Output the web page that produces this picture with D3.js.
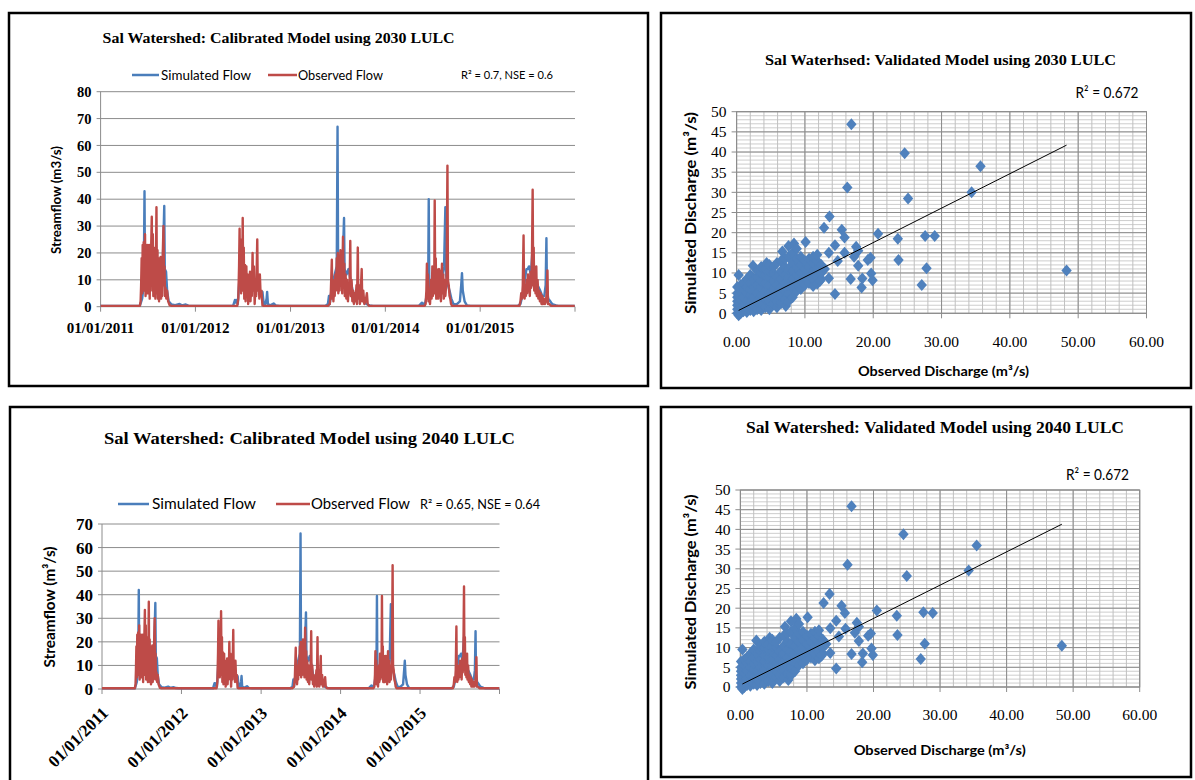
<!DOCTYPE html>
<html>
<head>
<meta charset="utf-8">
<script src="https://cdn.jsdelivr.net/npm/d3@7"></script>
<style>
  body { margin: 0; background: #fff; }
  svg { display: block; }
</style>
</head>
<body>
<svg id="chart" width="1195" height="780"></svg>
<script>
// ---- data ----
var yearLabels = ["01/01/2011", "01/01/2012", "01/01/2013", "01/01/2014", "01/01/2015"];
var flowTicks2030 = [0, 10, 20, 30, 40, 50, 60, 70, 80];
var flowTicks2040 = [0, 10, 20, 30, 40, 50, 60, 70];
var simTicks = [0, 5, 10, 15, 20, 25, 30, 35, 40, 45, 50];
var obsTicks = [0, 10, 20, 30, 40, 50, 60];

// observed flow (m3/s), same gauge record in both calibration panels
var observedFlow = [
  ["2011-01-01",0.3],
  ["2011-06-01",0.3],["2011-06-04",2],["2011-06-06",8],["2011-06-08",18],["2011-06-10",5],["2011-06-12",23],["2011-06-14",10],["2011-06-16",24],["2011-06-18",6],["2011-06-21",27],["2011-06-23",4],["2011-06-25",22],["2011-06-27",8],["2011-06-29",23],["2011-07-01",5],["2011-07-03",20],["2011-07-05",10],["2011-07-07",23],["2011-07-09",3],["2011-07-11",18],["2011-07-13",8],["2011-07-15",24],["2011-07-17",33.5],["2011-07-19",6],["2011-07-21",27],["2011-07-23",4],["2011-07-25",22],["2011-07-27",9],["2011-07-29",20],["2011-07-31",3],["2011-08-02",15],["2011-08-04",37],["2011-08-06",5],["2011-08-08",21],["2011-08-10",3],["2011-08-12",12],["2011-08-14",2],["2011-08-16",18],["2011-08-18",6],["2011-08-20",18.5],["2011-08-22",3],["2011-08-24",10],["2011-08-26",4],["2011-08-28",18],["2011-08-31",30],["2011-09-02",8],["2011-09-04",15],["2011-09-06",4],["2011-09-08",7],["2011-09-11",3],["2011-09-14",6],["2011-09-18",2],["2011-09-24",0.5],["2011-10-01",0.3],
  ["2012-06-10",0.3],["2012-06-14",3],["2012-06-17",15],["2012-06-19",29],["2012-06-21",8],["2012-06-23",25],["2012-06-25",5],["2012-06-27",18],["2012-06-29",10],["2012-07-01",33],["2012-07-03",6],["2012-07-05",22],["2012-07-07",3],["2012-07-10",15.5],["2012-07-12",2],["2012-07-15",15],["2012-07-17",5],["2012-07-20",12],["2012-07-22",1],["2012-07-25",8],["2012-07-27",3],["2012-07-29",13],["2012-07-31",2],["2012-08-03",10],["2012-08-05",4],["2012-08-08",20],["2012-08-10",6],["2012-08-13",15],["2012-08-16",1],["2012-08-19",8],["2012-08-22",4],["2012-08-26",25],["2012-08-28",6],["2012-08-31",12],["2012-09-03",3],["2012-09-05",12],["2012-09-08",4],["2012-09-11",6],["2012-09-15",0.5],["2012-09-20",0.3],
  ["2013-05-25",0.3],["2013-06-01",1],["2013-06-05",5],["2013-06-09",17.5],["2013-06-11",3],["2013-06-13",10],["2013-06-15",2],["2013-06-18",8],["2013-06-20",4],["2013-06-23",12],["2013-06-25",6],["2013-06-28",18],["2013-06-30",8],["2013-07-02",20],["2013-07-04",5],["2013-07-07",19],["2013-07-09",6],["2013-07-12",21],["2013-07-14",8],["2013-07-17",18],["2013-07-19",5],["2013-07-22",26],["2013-07-24",10],["2013-07-27",16],["2013-07-29",4],["2013-08-01",12],["2013-08-04",3],["2013-08-07",10],["2013-08-10",2],["2013-08-13",8],["2013-08-16",5],["2013-08-19",24.5],["2013-08-21",4],["2013-08-24",10],["2013-08-27",2],["2013-08-30",6],["2013-09-02",1],["2013-09-05",5],["2013-09-08",2],["2013-09-12",8],["2013-09-14",1],["2013-09-17",22],["2013-09-19",3],["2013-09-22",8],["2013-09-25",1],["2013-09-28",5],["2013-10-02",14],["2013-10-04",2],["2013-10-08",6],["2013-10-12",1],["2013-10-17",2],["2013-10-22",5],["2013-10-25",1],["2013-10-31",0.3],
  ["2014-06-01",0.3],["2014-06-05",1],["2014-06-08",6],["2014-06-10",16],["2014-06-12",3],["2014-06-14",12],["2014-06-16",2],["2014-06-19",4],["2014-06-22",1],["2014-06-26",10],["2014-06-28",3],["2014-07-01",15],["2014-07-03",4],["2014-07-06",12],["2014-07-08",5],["2014-07-10",39.5],["2014-07-12",6],["2014-07-14",18],["2014-07-16",3],["2014-07-18",14],["2014-07-20",5],["2014-07-22",12],["2014-07-24",3],["2014-07-27",14],["2014-07-29",4],["2014-08-01",13],["2014-08-03",2],["2014-08-05",10],["2014-08-07",16],["2014-08-09",5],["2014-08-12",12],["2014-08-14",3],["2014-08-17",10],["2014-08-20",4],["2014-08-23",8],["2014-08-25",12],["2014-08-28",52.5],["2014-08-30",10],["2014-09-02",8],["2014-09-05",4],["2014-09-08",3],["2014-09-11",1],["2014-09-15",0.3],
  ["2015-06-01",0.3],["2015-06-05",2],["2015-06-08",5],["2015-06-11",3],["2015-06-14",8],["2015-06-17",26.5],["2015-06-19",5],["2015-06-21",3],["2015-06-24",8],["2015-06-26",4],["2015-06-29",10],["2015-07-01",5],["2015-07-04",12],["2015-07-06",6],["2015-07-09",10],["2015-07-11",4],["2015-07-14",13],["2015-07-16",7],["2015-07-19",15],["2015-07-22",43.5],["2015-07-24",8],["2015-07-26",22],["2015-07-28",6],["2015-07-31",14],["2015-08-02",5],["2015-08-05",15],["2015-08-07",4],["2015-08-10",10],["2015-08-13",3],["2015-08-16",6],["2015-08-19",2],["2015-08-22",5],["2015-08-25",1],["2015-08-28",4],["2015-08-31",1],["2015-09-03",3],["2015-09-07",1],["2015-09-11",2],["2015-09-14",5],["2015-09-17",13.5],["2015-09-19",1],["2015-09-24",1],["2015-10-01",0.3],
  ["2015-12-31",0.3]
];

// simulated flow with 2030 LULC
var simulated2030 = [
  ["2011-01-01",0.3],
  ["2011-06-01",0.3],["2011-06-10",3],["2011-06-16",8],["2011-06-19",43],["2011-06-21",10],["2011-06-25",18],["2011-07-01",12],["2011-07-10",20],["2011-07-20",15],["2011-08-01",18],["2011-08-10",12],["2011-08-20",10],["2011-08-28",14],["2011-09-03",37.5],["2011-09-05",14],["2011-09-10",13],["2011-09-14",6],["2011-09-20",2],["2011-10-01",0.8],["2011-10-15",0.6],["2011-11-01",1],["2011-11-10",0.5],["2011-11-25",0.8],["2011-12-05",0.4],["2011-12-20",0.3],
  ["2012-05-25",0.3],["2012-06-01",2.5],["2012-06-05",1.5],["2012-06-08",2.5],["2012-06-12",1],["2012-06-18",10],["2012-06-25",12],["2012-07-05",10],["2012-07-15",8],["2012-07-25",6],["2012-08-05",10],["2012-08-15",8],["2012-08-25",10],["2012-09-05",6],["2012-09-15",5.5],["2012-09-20",1],["2012-09-25",0.5],["2012-10-01",3],["2012-10-03",5.5],["2012-10-06",1],["2012-10-15",0.5],["2012-10-28",1.2],["2012-11-05",0.5],["2012-11-20",0.3],
  ["2013-05-15",0.3],["2013-05-25",1],["2013-05-29",4],["2013-06-01",1],["2013-06-10",8],["2013-06-20",12],["2013-06-28",15],["2013-07-01",67],["2013-07-03",20],["2013-07-08",15],["2013-07-15",18],["2013-07-22",20],["2013-07-26",33],["2013-07-28",14],["2013-08-05",12],["2013-08-12",14],["2013-08-20",10],["2013-08-28",6],["2013-09-05",4],["2013-09-12",3],["2013-09-20",5],["2013-10-01",3],["2013-10-10",2],["2013-10-20",1],["2013-11-01",0.5],["2013-11-15",0.3],
  ["2014-05-10",0.3],["2014-05-22",1.5],["2014-05-26",0.5],["2014-06-05",2],["2014-06-12",6],["2014-06-15",10],["2014-06-17",40],["2014-06-19",8],["2014-06-25",6],["2014-07-05",8],["2014-07-15",10],["2014-07-25",8],["2014-08-05",10],["2014-08-15",15],["2014-08-20",37],["2014-08-22",12],["2014-08-30",8],["2014-09-05",6],["2014-09-12",3],["2014-09-20",1],["2014-10-01",0.8],["2014-10-15",2],["2014-10-20",8],["2014-10-23",12.5],["2014-10-26",6],["2014-11-02",2],["2014-11-11",0.5],["2014-11-25",0.3],
  ["2015-05-25",0.3],["2015-06-05",1],["2015-06-15",5],["2015-06-22",10],["2015-06-28",14],["2015-07-03",14],["2015-07-08",15],["2015-07-15",12],["2015-07-22",22],["2015-07-25",12],["2015-08-01",10],["2015-08-10",8],["2015-08-20",6],["2015-08-28",4],["2015-09-05",4],["2015-09-10",8],["2015-09-13",25.5],["2015-09-15",6],["2015-09-20",3],["2015-09-28",2],["2015-10-05",1],["2015-10-20",0.5],["2015-10-28",0.3],
  ["2015-12-31",0.3]
];

// simulated flow with 2040 LULC
var simulated2040 = [
  ["2011-01-01",0.3],
  ["2011-06-01",0.3],["2011-06-10",3],["2011-06-16",8],["2011-06-19",42],["2011-06-21",10],["2011-06-25",18],["2011-07-01",12],["2011-07-10",20],["2011-07-20",15],["2011-08-01",18],["2011-08-10",12],["2011-08-20",10],["2011-08-28",14],["2011-09-03",36.5],["2011-09-05",14],["2011-09-10",13],["2011-09-14",6],["2011-09-20",2],["2011-10-01",0.8],["2011-10-15",0.6],["2011-11-01",1],["2011-11-10",0.5],["2011-11-25",0.8],["2011-12-05",0.4],["2011-12-20",0.3],
  ["2012-05-25",0.3],["2012-06-01",2.5],["2012-06-05",1.5],["2012-06-08",2.5],["2012-06-12",1],["2012-06-18",10],["2012-06-25",12],["2012-07-05",10],["2012-07-15",8],["2012-07-25",6],["2012-08-05",10],["2012-08-15",8],["2012-08-25",10],["2012-09-05",6],["2012-09-15",5.5],["2012-09-20",1],["2012-09-25",0.5],["2012-10-01",3],["2012-10-03",5.5],["2012-10-06",1],["2012-10-15",0.5],["2012-10-28",1.2],["2012-11-05",0.5],["2012-11-20",0.3],
  ["2013-05-15",0.3],["2013-05-25",1],["2013-05-29",4],["2013-06-01",1],["2013-06-10",8],["2013-06-20",12],["2013-06-28",15],["2013-07-01",66],["2013-07-03",20],["2013-07-08",15],["2013-07-15",18],["2013-07-22",20],["2013-07-26",32.5],["2013-07-28",14],["2013-08-05",12],["2013-08-12",14],["2013-08-20",10],["2013-08-28",6],["2013-09-05",4],["2013-09-12",3],["2013-09-20",5],["2013-10-01",3],["2013-10-10",2],["2013-10-20",1],["2013-11-01",0.5],["2013-11-15",0.3],
  ["2014-05-10",0.3],["2014-05-22",1.5],["2014-05-26",0.5],["2014-06-05",2],["2014-06-12",6],["2014-06-15",10],["2014-06-17",39.5],["2014-06-19",8],["2014-06-25",6],["2014-07-05",8],["2014-07-15",10],["2014-07-25",8],["2014-08-05",10],["2014-08-15",15],["2014-08-20",36],["2014-08-22",12],["2014-08-30",8],["2014-09-05",6],["2014-09-12",3],["2014-09-20",1],["2014-10-01",0.8],["2014-10-15",2],["2014-10-20",8],["2014-10-23",12],["2014-10-26",6],["2014-11-02",2],["2014-11-11",0.5],["2014-11-25",0.3],
  ["2015-05-25",0.3],["2015-06-05",1],["2015-06-15",5],["2015-06-22",10],["2015-06-28",14],["2015-07-03",14],["2015-07-08",15],["2015-07-15",12],["2015-07-22",22],["2015-07-25",12],["2015-08-01",10],["2015-08-10",8],["2015-08-20",6],["2015-08-28",4],["2015-09-05",4],["2015-09-10",8],["2015-09-13",24.5],["2015-09-15",6],["2015-09-20",3],["2015-09-28",2],["2015-10-05",1],["2015-10-20",0.5],["2015-10-28",0.3],
  ["2015-12-31",0.3]
];

// [observed, simulated] pairs in the dense low-flow cloud (same in both validation panels)
var scatterCluster = [
  [0.1,0],[0.1,1],[0.1,2],[0.1,3],[0.1,4],[0.1,5],[0.1,6.5],
  [0.3,-0.5],[0.3,2.5],[0.3,4.5],[0.3,9.5],
  [0.6,0],[0.6,1.5],[0.6,3.5],[0.6,5.5],[0.6,7],
  [1.0,0.5],[1.0,2],[1.0,4],[1.0,6],[1.0,7.5],
  [1.5,0.3],[1.5,1.5],[1.5,3],[1.5,5],[1.5,6.5],[1.5,8.5],
  [2.0,0.8],[2.0,2.5],[2.0,4.5],[2.0,6],[2.0,7.5],[2.0,9.5],
  [2.5,0.5],[2.5,2],[2.5,4],[2.5,6.5],[2.5,8.5],[2.4,11.8],
  [3.0,1],[3.0,3],[3.0,5],[3.0,7],[3.0,9],[3.0,10.5],
  [3.6,0.8],[3.6,2.5],[3.6,4.5],[3.6,6.5],[3.6,8],[3.6,10],[3.6,11.5],
  [4.2,1.5],[4.2,3.5],[4.2,5.5],[4.2,7.5],[4.2,9.5],[4.2,11],[4.4,12.5],
  [4.8,1],[4.8,3],[4.8,5],[4.8,7],[4.8,9],[4.8,10.5],[4.8,12],
  [5.4,2.5],[5.4,4],[5.4,6],[5.4,8],[5.4,10],[5.4,11.5],
  [5.9,1.5],[5.9,3],[5.9,5],[5.9,7],[5.9,9],[5.9,12.5],
  [6.5,2.5],[6.5,4.5],[6.5,6.5],[6.5,8.5],[6.5,10.5],[6.5,13],[6.7,15.3],
  [7.2,1.8],[7.1,3.5],[7.1,5.5],[7.1,7.5],[7.1,9.5],[7.1,11.5],[7.1,13.5],
  [7.6,3],[7.6,5],[7.6,7],[7.6,9],[7.6,11],[7.6,14],[7.6,16.7],
  [8.2,4],[8.2,6.5],[8.2,8.5],[8.2,10.5],[8.2,12.5],[8.2,15],[8.4,17.3],
  [8.8,5.5],[8.8,7.5],[8.8,9.5],[8.8,11.5],[8.8,13.5],[8.8,16],
  [9.4,6],[9.4,8],[9.4,10],[9.4,12],[9.4,14],
  [10,7],[10,9],[10,11],[10,13],[10.1,17.7],
  [10.6,7.5],[10.6,9.5],[10.6,11.5],[10.6,13.5],
  [11.2,6.8],[11.2,8.5],[11.2,10.5],[11.2,12.5],[11.2,14],
  [11.8,7.3],[11.8,9],[11.8,11],[11.8,13],
  [12.4,8.5],[12.4,10],[12.4,12]
];

var scatterOutliers2030 = [
  [16.8,46.9],[24.6,39.7],[35.7,36.5],[16.2,31.2],[34.4,30],[25.1,28.5],[13.6,24],[12.8,21.2],
  [15.4,20.7],[15.8,18.8],[20.7,19.7],[23.6,18.5],[27.6,19.2],[29,19.2],[17.5,16.5],[17.8,15.5],
  [14.4,16.9],[13.5,15],[15.8,15],[17.2,14],[23.7,13.2],[19.2,13.2],[19.6,13.8],[14.8,13],
  [17.8,11.8],[27.8,11.2],[48.3,10.6],[19.7,9.9],[13.5,8.7],[16.7,8.5],[18.4,8.6],[19.9,8.2],
  [27.1,7],[18.3,6.4],[14.4,4.8],[12.9,11],[11.8,14.5],[12.2,8]
];

var scatterOutliers2040 = [
  [16.7,45.9],[24.5,38.8],[35.5,35.9],[16.1,31],[34.3,29.6],[25,28.2],[13.4,23.6],[12.5,21.3],
  [15.2,20.6],[15.7,18.8],[20.5,19.4],[23.5,18.1],[27.5,19],[28.9,18.8],[17.5,16.3],[17.8,15.3],
  [14.4,16.8],[13.5,14.9],[15.8,14.8],[17.2,13.8],[23.6,13.2],[19.2,13],[19.6,13.6],[14.8,12.8],
  [17.8,11.7],[27.7,11],[48.3,10.5],[19.7,9.8],[13.5,8.6],[16.7,8.4],[18.4,8.5],[19.9,8.1],
  [27.1,7.1],[18.3,6.3],[14.4,4.7],[12.9,10.9],[11.8,14.4],[12.2,7.9]
];

// linear trend lines [slope, intercept]
var trend2030 = [0.854, 0.46];
var trend2040 = [0.845, 0.5];

// ---- drawing ----
var svg = d3.select("#chart");
var SANS = "Lato, 'Open Sans', sans-serif";
var SERIF = "'Liberation Serif', 'Times New Roman', serif";
var BLUE = "#4a7ebb", RED = "#be4b48", DOT = "#4f81bd";
var GRID = "#8c8c8c", MINOR = "#c0c0c0";
var parseIso = d3.timeParse("%Y-%m-%d");
var parseLabel = d3.timeParse("%d/%m/%Y");

function txt(g, s, x, y, o) {
    var t = g.append("text")
        .attr("x", x).attr("y", y).attr("dy", "0.35em")
        .attr("font-family", o.family || SANS)
        .attr("font-size", o.size)
        .attr("font-weight", o.weight || "normal")
        .attr("text-anchor", o.anchor || "start")
        .attr("fill", "#000")
        .text(s);
    if (o.fit) t.attr("textLength", o.fit).attr("lengthAdjust", "spacingAndGlyphs");
    if (o.rotate) t.attr("transform", "rotate(" + o.rotate + "," + x + "," + y + ")");
    return t;
}

function box(b) {
    svg.append("rect")
        .attr("x", b[0]).attr("y", b[1])
        .attr("width", b[2] - b[0]).attr("height", b[3] - b[1])
        .attr("fill", "none").attr("stroke", "#000").attr("stroke-width", 2.5);
}

function drawFlow(c, sim, obs, yTicks, stats) {
    box(c.box);
    var g = svg.append("g");

    var x = d3.scaleTime()
        .domain([parseIso("2011-01-01"), parseIso("2016-01-01")])
        .range([c.left, c.right]);
    var y = d3.scaleLinear()
        .domain([0, d3.max(yTicks)])
        .range([c.bottom, c.top]);

    // horizontal gridlines + y ticks
    g.selectAll(".grid").data(yTicks).enter().append("line")
        .attr("x1", c.left - 4).attr("x2", c.right)
        .attr("y1", function(d) { return y(d); }).attr("y2", function(d) { return y(d); })
        .attr("stroke", GRID).attr("stroke-width", 1);
    yTicks.forEach(function(d) {
        txt(g, d, c.left - 9, y(d), {family: SERIF, weight: "bold", size: c.tickSize, anchor: "end"});
    });
    g.append("line")
        .attr("x1", c.left).attr("x2", c.left).attr("y1", c.top).attr("y2", c.bottom)
        .attr("stroke", GRID).attr("stroke-width", 1);

    // x ticks at each year boundary
    var tickDates = yearLabels.map(parseLabel).concat([parseIso("2016-01-01")]);
    g.selectAll(".xt").data(tickDates).enter().append("line")
        .attr("x1", function(d) { return x(d); }).attr("x2", function(d) { return x(d); })
        .attr("y1", c.bottom).attr("y2", c.bottom + 5)
        .attr("stroke", GRID).attr("stroke-width", 1);
    yearLabels.forEach(function(s) {
        var px = x(parseLabel(s));
        if (c.rotate) {
            txt(g, s, px + 3, c.bottom + 21, {family: SERIF, weight: "bold", size: c.xSize, anchor: "end", rotate: -45});
        } else {
            txt(g, s, px, c.labelY, {family: SERIF, weight: "bold", size: c.xSize, anchor: "middle"});
        }
    });

    var line = d3.line()
        .x(function(d) { return x(parseIso(d[0])); })
        .y(function(d) { return y(d[1]); });

    g.append("path").attr("d", line(sim))
        .attr("fill", "none").attr("stroke", BLUE).attr("stroke-width", 2.4)
        .attr("stroke-linejoin", "round");
    g.append("path").attr("d", line(obs))
        .attr("fill", "none").attr("stroke", RED).attr("stroke-width", 2.4)
        .attr("stroke-linejoin", "round");

    // title, legend, stats, axis title
    txt(g, c.title, c.titleX, c.titleY, {family: SERIF, weight: "bold", size: c.titleSize, fit: c.titleW});
    var L = c.legend;
    g.append("line").attr("x1", L.sim[0]).attr("x2", L.sim[1]).attr("y1", L.y).attr("y2", L.y)
        .attr("stroke", BLUE).attr("stroke-width", 2.5);
    txt(g, "Simulated Flow", L.sim[2], L.y, {size: L.size, fit: L.sim[3]});
    g.append("line").attr("x1", L.obs[0]).attr("x2", L.obs[1]).attr("y1", L.y).attr("y2", L.y)
        .attr("stroke", RED).attr("stroke-width", 2.5);
    txt(g, "Observed Flow", L.obs[2], L.y, {size: L.size, fit: L.obs[3]});
    txt(g, stats, L.stats[0], L.y, {size: L.statSize, fit: L.stats[1]});

    txt(g, c.yTitle, c.yTitleX, c.yTitleY, {weight: "bold", size: c.yTitleSize, anchor: "middle", rotate: -90, fit: c.yTitleW});
}

function drawScatter(c, pts, trend) {
    box(c.box);
    var g = svg.append("g");

    var x = d3.scaleLinear().domain([0, d3.max(obsTicks)]).range([c.left, c.right]);
    var y = d3.scaleLinear().domain([0, d3.max(simTicks)]).range([c.bottom, c.top]);

    // minor grid
    g.selectAll(".mv").data(d3.range(0, 61, 2)).enter().append("line")
        .attr("x1", function(d) { return x(d); }).attr("x2", function(d) { return x(d); })
        .attr("y1", c.top).attr("y2", c.bottom)
        .attr("stroke", MINOR).attr("stroke-width", 1);
    g.selectAll(".mh").data(d3.range(0, 51, 1)).enter().append("line")
        .attr("x1", c.left).attr("x2", c.right)
        .attr("y1", function(d) { return y(d); }).attr("y2", function(d) { return y(d); })
        .attr("stroke", MINOR).attr("stroke-width", 0.8);
    // major grid + ticks
    g.selectAll(".Mv").data(obsTicks).enter().append("line")
        .attr("x1", function(d) { return x(d); }).attr("x2", function(d) { return x(d); })
        .attr("y1", c.top).attr("y2", c.bottom + 5)
        .attr("stroke", GRID).attr("stroke-width", 1);
    g.selectAll(".Mh").data(simTicks).enter().append("line")
        .attr("x1", c.left - 5).attr("x2", c.right)
        .attr("y1", function(d) { return y(d); }).attr("y2", function(d) { return y(d); })
        .attr("stroke", GRID).attr("stroke-width", 1);
    g.append("rect").attr("x", c.left).attr("y", c.top)
        .attr("width", c.right - c.left).attr("height", c.bottom - c.top)
        .attr("fill", "none").attr("stroke", GRID).attr("stroke-width", 1);

    simTicks.forEach(function(d) {
        txt(g, d, c.left - 10, y(d), {family: SERIF, size: c.tickSize, anchor: "end"});
    });
    obsTicks.forEach(function(d) {
        txt(g, d3.format(".2f")(d), x(d), c.labelY, {family: SERIF, size: c.tickSize, anchor: "middle"});
    });

    // diamonds
    g.selectAll(".pt").data(pts).enter().append("path")
        .attr("transform", function(d) { return "translate(" + x(d[0]) + "," + y(d[1]) + ")"; })
        .attr("d", "M0,-6L5.2,0L0,6L-5.2,0Z")
        .attr("fill", DOT);

    // trend line
    var ext = d3.extent(pts, function(d) { return d[0]; });
    var x0 = Math.max(ext[0], 0.3);
    g.append("line")
        .attr("x1", x(x0)).attr("y1", y(trend[0] * x0 + trend[1]))
        .attr("x2", x(ext[1])).attr("y2", y(trend[0] * ext[1] + trend[1]))
        .attr("stroke", "#000").attr("stroke-width", 1);

    txt(g, c.title, c.titleX, c.titleY, {family: SERIF, weight: "bold", size: c.titleSize, anchor: "middle", fit: c.titleW});
    txt(g, "R\u00b2 = 0.672", c.r2X, c.r2Y, {size: 14.5, fit: 63});
    txt(g, c.xTitle, c.xTitleX, c.xTitleY, {weight: "bold", size: 14, anchor: "middle", fit: c.xTitleW});
    txt(g, "Simulated Discharge (m\u00b3/s)", c.yTitleX, c.yTitleY, {weight: "bold", size: 15, anchor: "middle", rotate: -90, fit: c.yTitleW});
}

drawFlow({
    box: [9, 13, 648, 386],
    left: 100.6, right: 575, top: 91.7, bottom: 306.7,
    tickSize: 14.5, xSize: 15, labelY: 328, rotate: false,
    title: "Sal Watershed: Calibrated Model using 2030 LULC",
    titleX: 102.6, titleY: 38, titleSize: 15, titleW: 352,
    legend: {y: 75, size: 13, statSize: 11,
             sim: [132, 159, 161, 90], obs: [268, 297, 298, 85], stats: [461, 92]},
    yTitle: "Streamflow (m3/s)", yTitleX: 56.6, yTitleY: 200, yTitleSize: 13, yTitleW: 108
}, simulated2030, observedFlow, flowTicks2030, "R\u00b2 = 0.7, NSE = 0.6");

drawFlow({
    box: [10, 407, 648, 800],
    left: 102, right: 499.5, top: 524, bottom: 689,
    tickSize: 17, xSize: 17, rotate: true,
    title: "Sal Watershed: Calibrated Model using 2040 LULC",
    titleX: 104, titleY: 438, titleSize: 17.5, titleW: 411,
    legend: {y: 504, size: 15, statSize: 13,
             sim: [118, 149, 152, 104], obs: [276, 310, 311, 99], stats: [420, 120]},
    yTitle: "Streamflow (m\u00b3/s)", yTitleX: 50, yTitleY: 607, yTitleSize: 15, yTitleW: 121
}, simulated2040, observedFlow, flowTicks2040, "R\u00b2 = 0.65,  NSE = 0.64");

drawScatter({
    box: [661, 13, 1191, 388],
    left: 736.6, right: 1146.5, top: 111.7, bottom: 313.3,
    tickSize: 15.5, labelY: 342,
    title: "Sal Waterhsed: Validated Model using 2030 LULC",
    titleX: 940.5, titleY: 60, titleSize: 15.5, titleW: 351,
    r2X: 1075.5, r2Y: 93,
    xTitle: "Observed Discharge (m\u00b3/s)", xTitleX: 943.5, xTitleY: 371, xTitleW: 171,
    yTitleX: 691, yTitleY: 213, yTitleW: 202
}, scatterCluster.concat(scatterOutliers2030), trend2030);

drawScatter({
    box: [661, 407, 1191, 777],
    left: 740.4, right: 1139.7, top: 490, bottom: 687,
    tickSize: 15.5, labelY: 715,
    title: "Sal Watershed: Validated Model using 2040 LULC",
    titleX: 935, titleY: 427, titleSize: 16.5, titleW: 378,
    r2X: 1066, r2Y: 475,
    xTitle: "Observed  Discharge (m\u00b3/s)", xTitleX: 939.7, xTitleY: 750, xTitleW: 172,
    yTitleX: 691, yTitleY: 592, yTitleW: 195
}, scatterCluster.concat(scatterOutliers2040), trend2040);
</script>
</body>
</html>
